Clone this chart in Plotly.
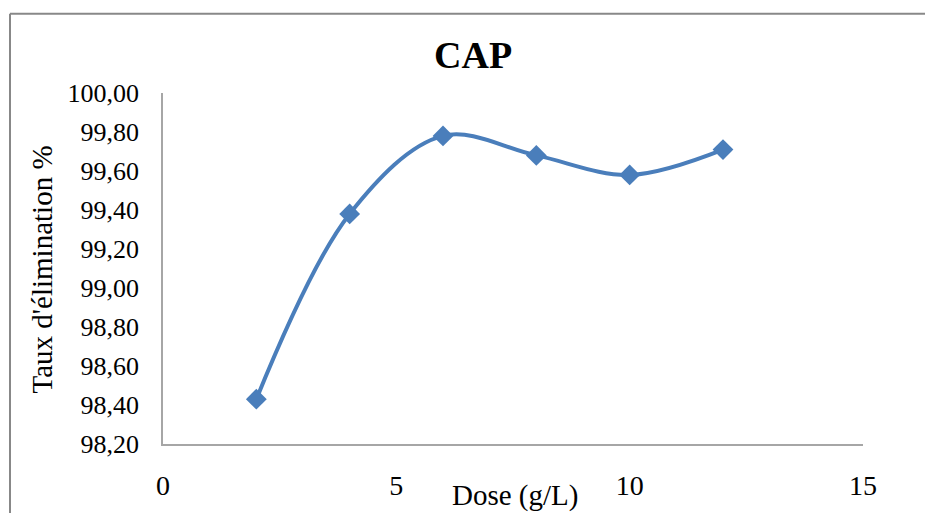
import plotly.graph_objects as go

# Removal rate of CAP as a function of adsorbent dose
dose_g_per_l = [2, 4, 6, 8, 10, 12]
removal_pct = [98.43, 99.38, 99.78, 99.68, 99.58, 99.71]

x_ticks = [0, 5, 10, 15]
y_ticks = [98.2, 98.4, 98.6, 98.8, 99.0, 99.2, 99.4, 99.6, 99.8, 100.0]

W, H = 925, 513
L, R, T, B = 163, 62, 93, 66
plot_w = W - L - R
plot_h = H - T - B


def px_x(px):
    return (px - L) / plot_w


def px_y(py):
    return (H - B - py) / plot_h


serif = "Liberation Serif, Times New Roman, serif"
blue = "#4A7EBB"

fig = go.Figure()
fig.add_trace(go.Scatter(
    x=dose_g_per_l,
    y=removal_pct,
    mode="lines+markers",
    line=dict(color=blue, width=4, shape="spline", smoothing=1),
    marker=dict(symbol="diamond", size=16, color=blue),
    showlegend=False,
))

fig.update_layout(
    width=W,
    height=H,
    margin=dict(l=L, r=R, t=T, b=B),
    paper_bgcolor="white",
    plot_bgcolor="white",
    separators=", ",
    font=dict(family=serif, color="black"),
    xaxis=dict(
        range=[0, 15],
        tickvals=x_ticks,
        showgrid=False,
        zeroline=False,
        showline=True,
        linecolor="#A6A6A6",
        linewidth=1.5,
        ticks="",
        ticklabelstandoff=16,
        tickfont=dict(family=serif, size=28, color="black"),
    ),
    yaxis=dict(
        range=[98.2, 100.0],
        tickvals=y_ticks,
        tickformat=".2f",
        showgrid=False,
        zeroline=False,
        showline=True,
        linecolor="#A6A6A6",
        linewidth=1.5,
        ticks="",
        ticklabelstandoff=17,
        tickfont=dict(family=serif, size=26, color="black"),
    ),
)

# Chart title and axis titles
fig.add_annotation(
    text="<b>CAP</b>", xref="paper", yref="paper",
    x=px_x(473), y=px_y(55), xanchor="center", yanchor="middle",
    showarrow=False, font=dict(family=serif, size=38, color="black"),
)
fig.add_annotation(
    text="Taux d'élimination %", xref="paper", yref="paper",
    x=px_x(42), y=px_y(271), xanchor="center", yanchor="middle",
    textangle=-90, showarrow=False,
    font=dict(family=serif, size=29, color="black"),
)
fig.add_annotation(
    text="Dose (g/L)", xref="paper", yref="paper",
    x=px_x(515), y=px_y(499), xanchor="center", yanchor="middle",
    showarrow=False, font=dict(family=serif, size=29, color="black"),
)

# Chart-area frame (top and left edges)
frame = dict(color="#888888", width=2)
fig.add_shape(type="line", xref="paper", yref="paper",
              x0=px_x(10), x1=px_x(940), y0=px_y(13), y1=px_y(13), line=frame)
fig.add_shape(type="line", xref="paper", yref="paper",
              x0=px_x(10), x1=px_x(10), y0=px_y(13), y1=px_y(520), line=frame)

fig.write_html("out.html")
